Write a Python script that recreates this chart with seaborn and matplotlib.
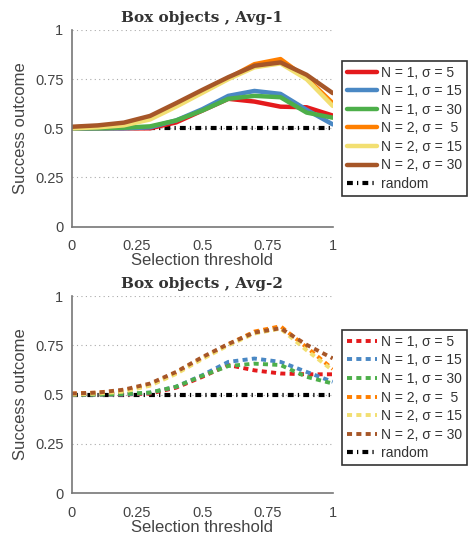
import seaborn as sns
import matplotlib.pyplot as plt

# umbrales de seleccion
thresholds = [0, 0.1, 0.2, 0.3, 0.4, 0.5, 0.6, 0.7, 0.8, 0.9, 1.0]
labels = ["N = 1, σ = 5", "N = 1, σ = 15", "N = 1, σ = 30",
          "N = 2, σ =  5", "N = 2, σ = 15", "N = 2, σ = 30"]
colors = ["#e41a1c", "#4a88c4", "#4daf4a", "#ff7f00", "#f2df72", "#a65628"]

# Avg-1
avg1_n1_s5 = [0.50, 0.50, 0.50, 0.50, 0.53, 0.59, 0.65, 0.636, 0.61, 0.607, 0.565]
avg1_n1_s15 = [0.50, 0.50, 0.50, 0.505, 0.54, 0.597, 0.665, 0.69, 0.675, 0.594, 0.52]
avg1_n1_s30 = [0.50, 0.50, 0.503, 0.51, 0.54, 0.59, 0.65, 0.665, 0.658, 0.58, 0.554]
avg1_n2_s5 = [0.505, 0.51, 0.52, 0.555, 0.615, 0.685, 0.755, 0.826, 0.852, 0.755, 0.628]
avg1_n2_s15 = [0.50, 0.505, 0.515, 0.545, 0.61, 0.68, 0.75, 0.81, 0.83, 0.75, 0.614]
avg1_n2_s30 = [0.508, 0.515, 0.529, 0.563, 0.628, 0.695, 0.76, 0.818, 0.835, 0.772, 0.679]

# Avg-2
avg2_n1_s5 = [0.50, 0.50, 0.50, 0.505, 0.535, 0.59, 0.65, 0.623, 0.607, 0.603, 0.603]
avg2_n1_s15 = [0.50, 0.50, 0.50, 0.51, 0.54, 0.598, 0.666, 0.683, 0.666, 0.615, 0.565]
avg2_n1_s30 = [0.50, 0.50, 0.503, 0.51, 0.54, 0.595, 0.645, 0.657, 0.65, 0.59, 0.556]
avg2_n2_s5 = [0.505, 0.51, 0.52, 0.55, 0.61, 0.685, 0.755, 0.82, 0.847, 0.74, 0.63]
avg2_n2_s15 = [0.50, 0.505, 0.515, 0.545, 0.605, 0.68, 0.75, 0.81, 0.835, 0.725, 0.623]
avg2_n2_s30 = [0.505, 0.51, 0.525, 0.556, 0.615, 0.69, 0.757, 0.815, 0.837, 0.753, 0.684]

random_level = [0.5] * len(thresholds)

avg1 = [avg1_n1_s5, avg1_n1_s15, avg1_n1_s30, avg1_n2_s5, avg1_n2_s15, avg1_n2_s30]
avg2 = [avg2_n1_s5, avg2_n1_s15, avg2_n1_s30, avg2_n2_s5, avg2_n2_s15, avg2_n2_s30]

sns.set_style("white")
plt.rcParams['font.family'] = ['Liberation Sans', 'DejaVu Sans']

fig = plt.figure(figsize=(4.7, 5.35), dpi=100)
ax1 = fig.add_axes([0.1526, 0.5763, 0.5553, 0.3677])
ax2 = fig.add_axes([0.1526, 0.0785, 0.5553, 0.3680])


def draw(ax, series, title, dotted, leg_y):
    for vals, lab, col in zip(series, labels, colors):
        if dotted:
            sns.lineplot(x=thresholds, y=vals, ax=ax, color=col, lw=2.8, label=lab,
                         linestyle=(0, (1.3, 1.1)), solid_capstyle='butt')
        else:
            sns.lineplot(x=thresholds, y=vals, ax=ax, color=col, lw=3.2, label=lab)
    # linea aleatoria
    ax.plot(thresholds, random_level, color='black', lw=3, linestyle=(0, (1.4, 1.0, 0.3, 1.0)),
            label='random', zorder=1)
    ax.set_xlim(0, 1)
    ax.set_ylim(0, 1)
    ax.set_xticks([0, 0.25, 0.5, 0.75, 1])
    ax.set_xticklabels(['0', '0.25', '0.5', '0.75', '1'])
    ax.set_yticks([0, 0.25, 0.5, 0.75, 1])
    ax.set_yticklabels(['0', '0.25', '0.5', '0.75', '1'])
    ax.yaxis.grid(True, linestyle=(0, (1, 3)), color='#aaaaaa', lw=0.8)
    ax.xaxis.grid(False)
    for s in ['top', 'right']:
        ax.spines[s].set_visible(False)
    for s in ['left', 'bottom']:
        ax.spines[s].set_color('#777777')
        ax.spines[s].set_linewidth(1.2)
    ax.tick_params(axis='both', direction='out', length=4, width=1, color='#777777',
                   labelsize=10.5, labelcolor='#444444')
    ax.tick_params(axis='x', pad=5)
    ax.tick_params(axis='y', pad=2)
    ax.set_xlabel('Selection threshold', fontsize=12, color='#444444', labelpad=0)
    ax.set_ylabel('Success outcome', fontsize=12, color='#444444', labelpad=5)
    ax.set_title(title, family='DejaVu Serif', fontweight='bold', fontsize=11,
                 color='#333333', pad=6)
    leg = ax.legend(loc='center left', bbox_to_anchor=(1.035, leg_y), fontsize=10,
                    frameon=True, fancybox=False, edgecolor='black', handlelength=2.2,
                    labelspacing=0.33, borderpad=0.35, handletextpad=0.25, borderaxespad=0)
    leg.get_frame().set_linewidth(1.2)
    for t in leg.get_texts():
        t.set_color('#333333')


draw(ax1, avg1, 'Box objects , Avg-1', False, 0.50)
draw(ax2, avg2, 'Box objects , Avg-2', True, 0.485)

fig.savefig('out.png', dpi=100)
